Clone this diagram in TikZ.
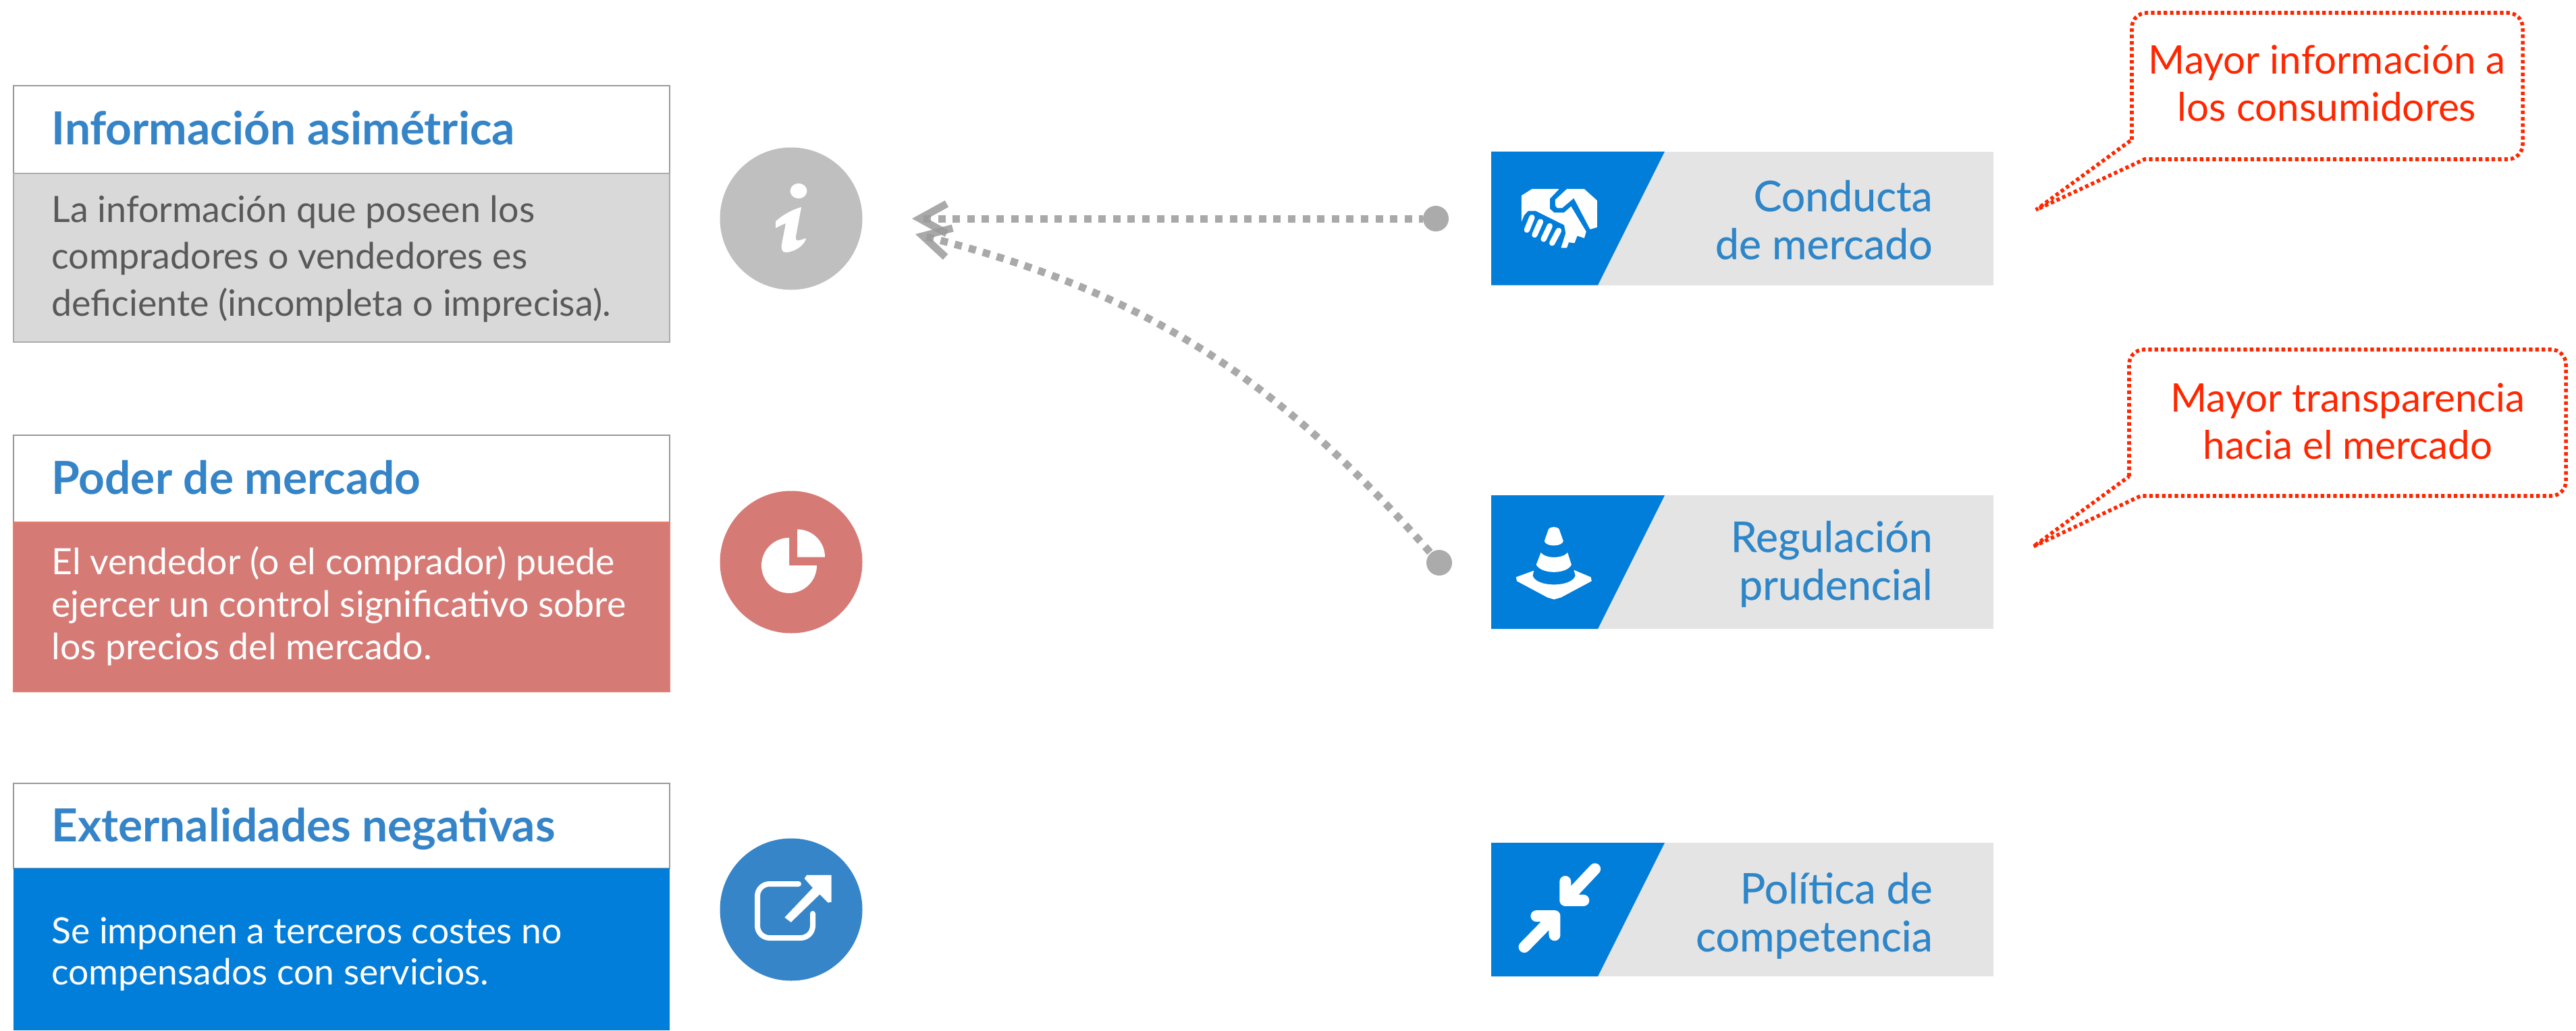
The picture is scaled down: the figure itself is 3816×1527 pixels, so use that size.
\documentclass[tikz,border=0pt]{standalone}
\usepackage{fontspec}
\setmainfont{Lato}
\newfontfamily\panefont[FakeBold=0.35]{Lato}
\usetikzlibrary{arrows.meta}
\definecolor{headblue}{HTML}{3584C8}
\definecolor{solidblue}{HTML}{017DDA}
\definecolor{paneblue}{HTML}{2E86C9}
\definecolor{panegray}{HTML}{E4E4E4}
\definecolor{boxline}{HTML}{999999}
\definecolor{lightgray}{HTML}{D9D9D9}
\definecolor{lightline}{HTML}{ABABAB}
\definecolor{bodygray}{HTML}{595959}
\definecolor{rose}{HTML}{D67A76}
\definecolor{roseline}{HTML}{E87C6A}
\definecolor{iconblue}{HTML}{3685C9}
\definecolor{circlegray}{HTML}{BFBFBF}
\definecolor{linkgray}{HTML}{ABABAB}
\definecolor{linkstroke}{HTML}{9A9A9A}
\definecolor{alertred}{HTML}{FF2600}
\tikzset{
  boxnode/.style={anchor=north west,inner sep=0pt,outer sep=0pt,minimum width=486pt},
  heading/.style={anchor=base west,inner sep=0pt,text=headblue,font=\fontsize{33.8}{38}\selectfont\bfseries},
  bodytext/.style={anchor=base west,align=left,inner sep=0pt},
  iconcircle/.style={circle,inner sep=0pt,minimum size=105.5pt},
  endpoint/.style={circle,fill=linkgray,inner sep=0pt,minimum size=19pt},
  linkline/.style={draw=linkstroke,draw opacity=.85,line width=5.5pt,dash pattern=on 5.5pt off 5.3pt,
    {Straight Barb[length=20pt,width=22pt,line width=5.5pt]}-},
  panegrey/.style={anchor=north west,fill=panegray,inner sep=0pt,outer sep=0pt,minimum width=372pt,minimum height=99pt},
  panetext/.style={anchor=base east,align=right,inner sep=0pt,text=paneblue,font=\fontsize{31.3}{35.5}\selectfont\panefont},
  callout/.style={draw=alertred,line width=2.8pt,dash pattern=on 2.6pt off 2.1pt},
  callouttext/.style={anchor=base,align=center,inner sep=0pt,text=alertred,font=\fontsize{29.2}{35}\selectfont},
}
\begin{document}
\begin{tikzpicture}[x=0.5pt,y=-0.5pt]
\useasboundingbox (0,0) rectangle (3816,1527);
% left boxes
\node[boxnode,draw=boxline,line width=1.2pt,fill=white,minimum height=65pt] (h1) at (20,127) {};
\node[boxnode,draw=lightline,line width=1.4pt,fill=lightgray,minimum height=125pt] (b1) at (20,257) {};
\node[heading] (t1) at (76,214) {Información asimétrica};
\node[bodytext,text=bodygray,font=\fontsize{26.9}{34.75}\selectfont] (x1) at (76,468) {La información que poseen los\\compradores o vendedores es\\deficiente (incompleta o imprecisa).};

\node[boxnode,draw=boxline,line width=1.2pt,fill=white,minimum height=64.5pt] (h2) at (20,645) {};
\node[boxnode,fill=rose,draw=roseline,line width=.8pt,minimum height=125.5pt] (b2) at (20,774) {};
\node[heading] (t2) at (76,732) {Poder de mercado};
\node[bodytext,text=white,font=\fontsize{26.8}{31.5}\selectfont] (x2) at (76,977) {El vendedor (o el comprador) puede\\ejercer un control significativo sobre\\los precios del mercado.};

\node[boxnode,draw=boxline,line width=1.2pt,fill=white,minimum height=63pt] (h3) at (20,1161) {};
\node[boxnode,fill=solidblue,minimum height=120pt] (b3) at (20,1287) {};
\node[heading] (t3) at (76,1247) {Externalidades negativas};
\node[bodytext,text=white,font=\fontsize{26.7}{30.5}\selectfont] (x3) at (76,1459) {Se imponen a terceros costes no\\compensados con servicios.};

% icon circles
\node[iconcircle,fill=circlegray] (c1) at (1172,324) {};
\node[iconcircle,fill=rose] (c2) at (1172,833) {};
\node[iconcircle,fill=iconblue] (c3) at (1172,1348) {};
% i glyph
\fill[white] (1183,283) ellipse[x radius=6.2pt,y radius=5.6pt];
\fill[white] (1149,328) .. controls (1160,318) and (1175,310) .. (1187,307)
  -- (1179,350) .. controls (1178,358) and (1180,358) .. (1194,353)
  .. controls (1192,364) and (1176,374) .. (1164,374)
  .. controls (1158,374) and (1157,368) .. (1158,362)
  -- (1164,331) .. controls (1158,333) and (1153,336) .. (1149,338) -- cycle;
% pie glyph
\fill[white] (1181,825.5) -- (1181,784.5) arc[start angle=90,end angle=0,radius=20.5pt] -- cycle;
\fill[white] (1169,838) -- (1169,797) arc[start angle=90,end angle=360,radius=20.5pt] -- cycle;
% external-link glyph
\draw[white,line width=4pt,line cap=round,rounded corners=9pt] (1183,1310) -- (1122,1310) -- (1122,1390) -- (1204,1390) -- (1204,1354);
\begin{scope}[shift={(1000,700)},x=0.16667pt,y=-0.2551pt]
\fill[white] (575,1180) -- (585,1170) -- (695,1170) -- (695,1248) -- (680,1250) -- (643,1226) -- (515,1307) -- (487,1293) -- (612,1207) -- cycle;
\end{scope}

% connectors
\coordinate (tipa) at (1351,324);
\coordinate (tipb) at (1356,347);
\node[endpoint] (d1) at (2127,324) {};
\node[endpoint] (d2) at (2132,834) {};
\draw[linkline] (tipa) -- (d1);
\draw[linkline] (tipb) .. controls (1705,434) and (1899,569) .. (d2);

% right panes
\foreach \n/\y in {p1/224.5,p2/734,p3/1249}{
  \node[panegrey] (\n) at (2209,\y) {};
  \fill[solidblue] (2209,\y) -- (2466,\y) -- (2367,\y+198) -- (2209,\y+198) -- cycle;
}
\node[panetext] (q1) at (2863,384) {Conducta\\de mercado};
\node[panetext] (q2) at (2863,889) {Regulación\\prudencial};
\node[panetext] (q3) at (2863,1410) {Política de\\competencia};

% handshake
\begin{scope}[shift={(2100,200)},x=0.28703pt,y=-0.24272pt]
\fill[white] (268,265) -- (268,185) -- (295,165) -- (365,165) -- (341,195) -- (341,225) -- (352,237) -- (378,237) -- (396,218) -- (435,295) -- (430,315) -- (412,308) -- (405,330) -- (390,328) -- (385,345) -- (370,345) -- (382,300) -- (378,275) -- (305,232) -- (285,232) -- (275,245) -- cycle;
\fill[white] (385,165) -- (355,198) -- (355,215) -- (360,223) -- (373,223) -- (403,193) -- (445,288) -- (463,282) -- (463,200) -- (430,165) -- cycle;
\draw[white,line width=4.2pt,line cap=round] (295,252) -- (282,290) (317,265) -- (302,305) (341,278) -- (325,318) (364,292) -- (347,330);
% traffic cone
\fill[white] (327,1240) -- (338,1203) .. controls (342,1195) and (361,1195) .. (365,1203) -- (376,1240) .. controls (372,1258) and (331,1258) .. (327,1240) -- cycle;
\fill[white] (318,1275) .. controls (330,1294) and (374,1294) .. (387,1275) -- (397,1312) .. controls (385,1342) and (319,1342) .. (306,1312) -- cycle;
\fill[white] (300,1330) -- (297,1345) .. controls (305,1382) and (399,1382) .. (407,1345) -- (403,1328) -- (447,1350) -- (449,1362) -- (370,1412) -- (352,1418) -- (335,1412) -- (256,1362) -- (254,1350) -- cycle;
\end{scope}
% converging arrows
\begin{scope}[shift={(2180,1230)},x=0.2551pt,y=-0.17007pt]
\draw[white,line width=8.5pt,line cap=round,line join=round] (358,170) -- (272,307) (272,225) -- (272,307) -- (325,307);
\draw[white,line width=8.5pt,line cap=round,line join=round] (153,510) -- (241,375) (241,458) -- (241,375) -- (188,375);
\end{scope}

% callouts
\coordinate (n1) at (3016,311);
\draw[callout] (3158,207) [rounded corners=11pt] -- (3158,19) -- (3737,19) -- (3737,236) [sharp corners] -- (3177,236) -- (n1) -- cycle;
\node[callouttext] (r1) at (3447,179) {Mayor información a\\los consumidores};
\coordinate (n2) at (3012,810);
\draw[callout] (3154,706) [rounded corners=11pt] -- (3154,518) -- (3801,518) -- (3801,735) [sharp corners] -- (3171,735) -- (n2) -- cycle;
\node[callouttext] (r2) at (3478,680) {Mayor transparencia\\hacia el mercado};
\end{tikzpicture}
\end{document}
